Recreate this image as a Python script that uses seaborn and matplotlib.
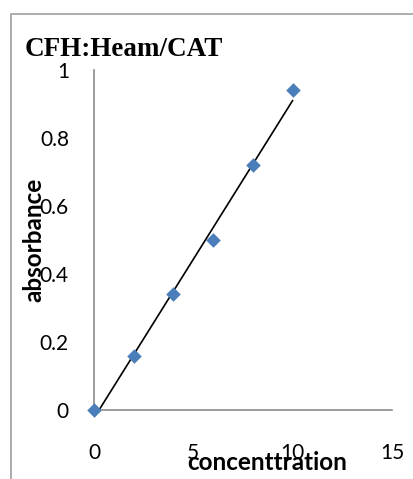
import numpy as np
import pandas as pd
import seaborn as sns
import matplotlib
matplotlib.use("Agg")
import matplotlib.pyplot as plt
from matplotlib.patches import Rectangle

# Calibration data
concentration = [0, 2, 4, 6, 8, 10]
absorbance = [0.0, 0.16, 0.34, 0.50, 0.72, 0.94]
x_ticks = [0, 5, 10, 15]
y_ticks = [0, 0.2, 0.4, 0.6, 0.8, 1]
y_tick_labels = ["0", "0.2", "0.4", "0.6", "0.8", "1"]

df = pd.DataFrame({"concentration": concentration, "absorbance": absorbance})

sns.set_theme(style="white")
plt.rcParams["font.family"] = ["Lato", "DejaVu Sans"]
plt.rcParams["text.color"] = "black"
plt.rcParams["axes.labelcolor"] = "black"

fig = plt.figure(figsize=(4.14, 4.79), dpi=100)
ax = fig.add_axes([94 / 414, 1 - 410 / 479, 298 / 414, 340 / 479])

# outer chart frame
fig.patches.append(Rectangle((11 / 414, -0.1), 1.2, 1 - 14 / 479 + 0.1,
                             transform=fig.transFigure, fill=False,
                             edgecolor="#a6a6a6", linewidth=1.3))

# linear trend line
sns.regplot(data=df, x="concentration", y="absorbance", ax=ax, scatter=False,
            ci=None, truncate=True, line_kws=dict(color="black", lw=1.2))

sns.scatterplot(data=df, x="concentration", y="absorbance", ax=ax,
                marker="D", s=55, color="#4a7ebb", linewidth=0, clip_on=False,
                zorder=3)

ax.set_xlim(0, 15)
ax.set_ylim(0, 1)
ax.set_xticks(x_ticks)
ax.set_yticks(y_ticks)
ax.set_yticklabels(y_tick_labels)
ax.tick_params(axis="both", length=0, labelsize=15, colors="black")
ax.tick_params(axis="y", pad=18)
ax.tick_params(axis="x", pad=24)

for side in ("top", "right"):
    ax.spines[side].set_visible(False)
for side in ("left", "bottom"):
    ax.spines[side].set_color("#8c8c8c")
    ax.spines[side].set_linewidth(1.2)

ax.set_xlabel("concenttration", fontsize=17.5, fontweight="bold", va="center")
ax.xaxis.set_label_coords((267 - 94) / 298, (410 - 463) / 340)
ax.set_ylabel("absorbance", fontsize=17.5, fontweight="bold", va="center", ha="center")
ax.yaxis.set_label_coords((34 - 94) / 298, (410 - 240) / 340)

fig.text(25 / 414, 1 - 50 / 479, "CFH:Heam/CAT", family="Liberation Serif",
         fontweight="bold", fontsize=19.5, va="center", ha="left", color="black")

fig.savefig("out.png", dpi=100)
